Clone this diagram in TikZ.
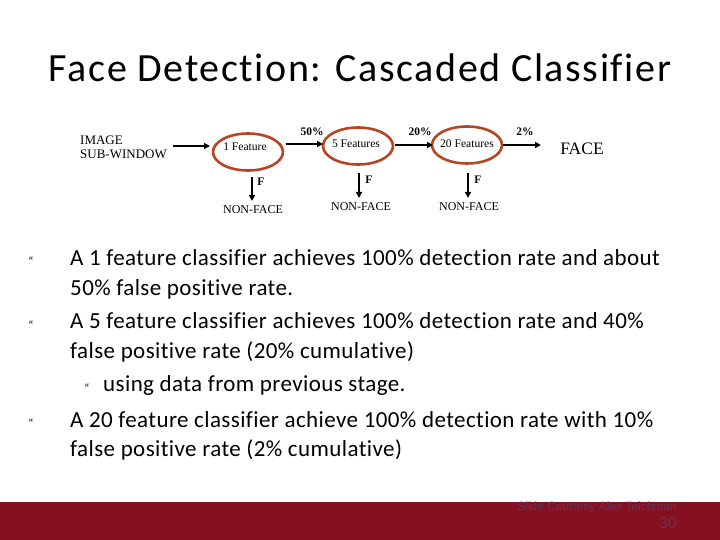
\documentclass[tikz,border=0pt]{standalone}
\usepackage{fontspec}
\setmainfont{Carlito}[Ligatures=NoCommon]
\newfontfamily\tms{Liberation Serif}
\newfontfamily\ars{Liberation Sans}
\usetikzlibrary{arrows.meta,shapes.geometric}
\definecolor{ellc}{RGB}{180,70,35}
\definecolor{barc}{RGB}{134,16,32}
\definecolor{footc}{RGB}{105,50,85}
\tikzset{
  stage/.style={draw=ellc, line width=2.6pt, ellipse, minimum width=70pt, minimum height=37pt, inner sep=0pt},
  lbl/.style={font=\tms\fontsize{12}{13}\selectfont, inner sep=0pt},
  slbl/.style={font=\tms\fontsize{11.6}{12}\selectfont, inner sep=0pt},
  pct/.style={font=\tms\bfseries\fontsize{11.5}{13}\selectfont, inner sep=0pt},
  arr/.style={-{Triangle[length=6pt,width=6pt]}, line width=1.6pt},
  bul/.style={font=\fontsize{23}{32}\selectfont\addfontfeature{LetterSpace=1.8}, inner sep=0pt, anchor=west},
  bmark/.style={font=\fontsize{12}{12}\selectfont, inner sep=0pt},
}
\begin{document}
\begin{tikzpicture}[x=1pt,y=-1pt]
\useasboundingbox (0,0) rectangle (720,540);
\fill[white] (0,0) rectangle (720,540);
% title
\node[font=\fontsize{40}{42}\selectfont\addfontfeature{LetterSpace=4}, inner sep=0pt] (title) at (360,68) {Face Detection: Cascaded Classifier};
% diagram
\node[font=\tms\fontsize{13}{14}\selectfont, inner sep=0pt, anchor=west, align=left] (img) at (80,147) {IMAGE\\SUB-WINDOW};
\node[stage] (s1) at (248,152) {};
\node[slbl] (t1) at (245,147) {1 Feature};
\node[stage] (s2) at (358,146) {};
\node[slbl] (t2) at (356,144) {5 Features};
\node[stage] (s3) at (467,145) {};
\node[slbl] (t3) at (467,144) {20 Features};
\node[font=\tms\fontsize{17.5}{18}\selectfont, inner sep=0pt] (face) at (582,149) {FACE};
\coordinate (a0s) at (173,146);
\coordinate (a0e) at (210,146);
\draw[arr] (a0s) -- (a0e);
\coordinate (a1s) at (286,144); \coordinate (a1e) at (323,144);
\draw[arr] (a1s) -- (a1e);
\coordinate (a2s) at (395,145); \coordinate (a2e) at (433,145);
\draw[arr] (a2s) -- (a2e);
\coordinate (a3s) at (503,145); \coordinate (a3e) at (541,145);
\draw[arr] (a3s) -- (a3e);
\node[pct] (p1) at (312,132) {50\%};
\node[pct] (p2) at (420,132) {20\%};
\node[pct] (p3) at (525,132) {2\%};
% down arrows
\coordinate (d1s) at (252,177); \coordinate (d1e) at (252,201);
\draw[arr] (d1s) -- (d1e);
\coordinate (d2s) at (359,173); \coordinate (d2e) at (359,198);
\draw[arr] (d2s) -- (d2e);
\coordinate (d3s) at (468,173); \coordinate (d3e) at (468,198);
\draw[arr] (d3s) -- (d3e);
\node[pct] (f1) at (261,182) {F};
\node[pct] (f2) at (369,180) {F};
\node[pct] (f3) at (478,180) {F};
\node[lbl] (n1) at (253,210) {NON-FACE};
\node[lbl] (n2) at (361,207) {NON-FACE};
\node[lbl] (n3) at (469,207) {NON-FACE};
% bullets
\node[bmark] (b1) at (31,261) {“};
\node[bul] (l1) at (70,258) {A 1 feature classifier achieves 100\% detection rate and about};
\node[bul] (l1b) at (70,289) {50\% false positive rate.};
\node[bmark] (b2) at (31,325) {“};
\node[bul] (l2) at (70,321) {A 5 feature classifier achieves 100\% detection rate and 40\%};
\node[bul] (l2b) at (70,352) {false positive rate (20\% cumulative)};
\node[bmark] (b3) at (87,388) {“};
\node[bul] (l3) at (103,385) {using data from previous stage.};
\node[bmark] (b4) at (31,423) {“};
\node[bul] (l4) at (70,420) {A 20 feature classifier achieve 100\% detection rate with 10\%};
\node[bul] (l4b) at (70,450) {false positive rate (2\% cumulative)};
% footer
\fill[barc] (0,502) rectangle (720,540);
\node[font=\ars\fontsize{12}{13}\selectfont, text=footc, inner sep=0pt, anchor=east] (cred) at (677,507) {Slide Courtesy Alex Teichman};
\node[font=\ars\fontsize{16}{18}\selectfont, text=footc, inner sep=0pt, anchor=east] (pg) at (677,523) {30};
\end{tikzpicture}
\end{document}
